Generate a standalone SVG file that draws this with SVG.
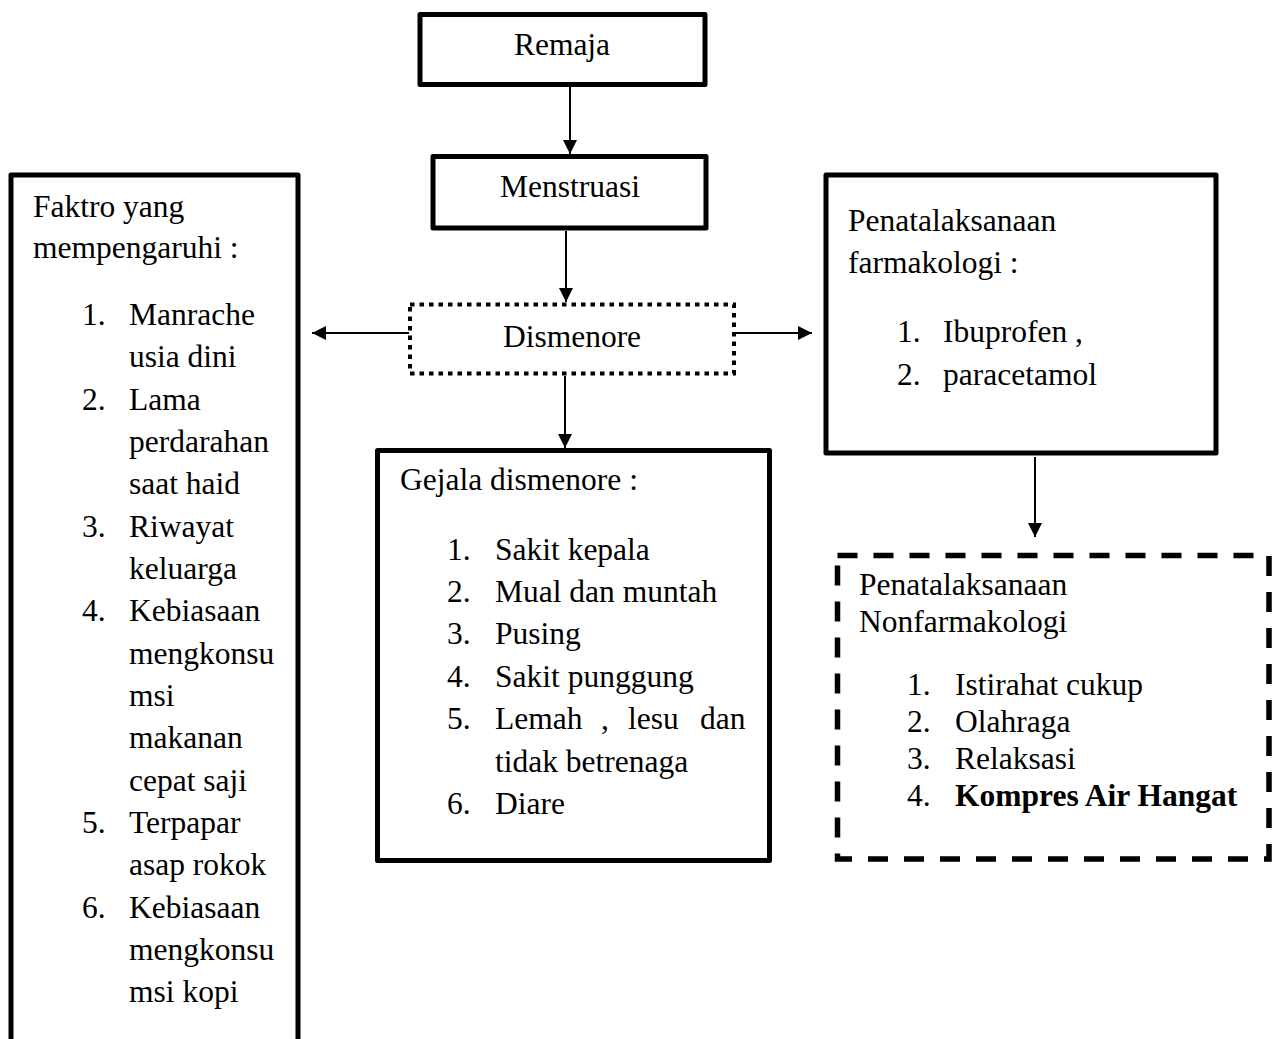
<svg xmlns="http://www.w3.org/2000/svg" width="1280" height="1039" viewBox="0 0 1280 1039">
<style>
.box{fill:#fff;stroke:#000;stroke-width:5;stroke-linejoin:round}
.dot{fill:#fff;stroke:#000;stroke-width:4;stroke-dasharray:4.5 5}
.dash{fill:#fff;stroke:#000;stroke-width:5.5;stroke-dasharray:20 16}
.t{font-family:"Liberation Serif","Times New Roman",serif;font-size:31.5px;fill:#000}
.c{text-anchor:middle}
.b{font-weight:bold}
.ln{stroke:#000;stroke-width:2;fill:none}
</style>
<defs>
<marker id="ah" viewBox="0 0 14 14" refX="14" refY="7" markerWidth="14" markerHeight="14" markerUnits="userSpaceOnUse" orient="auto">
<path d="M0,0 L14,7 L0,14 z" fill="#000"/>
</marker>
</defs>
<rect width="1280" height="1039" fill="#fff"/>
<g id="connectors">
<line class="ln" x1="570" y1="87" x2="570" y2="154" marker-end="url(#ah)"/>
<line class="ln" x1="566" y1="231" x2="566" y2="302" marker-end="url(#ah)"/>
<line class="ln" x1="565" y1="376" x2="565" y2="448" marker-end="url(#ah)"/>
<line class="ln" x1="409" y1="333" x2="312" y2="333" marker-end="url(#ah)"/>
<line class="ln" x1="735" y1="333" x2="812" y2="333" marker-end="url(#ah)"/>
<line class="ln" x1="1035" y1="457" x2="1035" y2="537" marker-end="url(#ah)"/>
</g>
<g id="remaja">
<rect class="box" x="420" y="14.5" width="285" height="70"/>
<text class="t c" x="562" y="55">Remaja</text>
</g>
<g id="menstruasi">
<rect class="box" x="433" y="156.5" width="273" height="71.5"/>
<text class="t c" x="570" y="197">Menstruasi</text>
</g>
<g id="dismenore">
<rect class="dot" x="410" y="304.5" width="324" height="69"/>
<text class="t c" x="572" y="347">Dismenore</text>
</g>
<g id="faktor">
<rect class="box" x="11" y="175" width="287" height="880"/>
<text class="t" x="33" y="217">Faktro yang</text>
<text class="t" x="33" y="258">mempengaruhi :</text>
<text class="t" x="82" y="325">1.</text><text class="t" x="129" y="325">Manrache</text>
<text class="t" x="129" y="367">usia dini</text>
<text class="t" x="82" y="410">2.</text><text class="t" x="129" y="410">Lama</text>
<text class="t" x="129" y="452">perdarahan</text>
<text class="t" x="129" y="494">saat haid</text>
<text class="t" x="82" y="537">3.</text><text class="t" x="129" y="537">Riwayat</text>
<text class="t" x="129" y="579">keluarga</text>
<text class="t" x="82" y="621">4.</text><text class="t" x="129" y="621">Kebiasaan</text>
<text class="t" x="129" y="664">mengkonsu</text>
<text class="t" x="129" y="706">msi</text>
<text class="t" x="129" y="748">makanan</text>
<text class="t" x="129" y="791">cepat saji</text>
<text class="t" x="82" y="833">5.</text><text class="t" x="129" y="833">Terpapar</text>
<text class="t" x="129" y="875">asap rokok</text>
<text class="t" x="82" y="918">6.</text><text class="t" x="129" y="918">Kebiasaan</text>
<text class="t" x="129" y="960">mengkonsu</text>
<text class="t" x="129" y="1002">msi kopi</text>
</g>
<g id="gejala">
<rect class="box" x="377.5" y="450.5" width="392" height="410"/>
<text class="t" x="400" y="490">Gejala dismenore :</text>
<text class="t" x="447" y="560">1.</text><text class="t" x="495" y="560">Sakit kepala</text>
<text class="t" x="447" y="602">2.</text><text class="t" x="495" y="602">Mual dan muntah</text>
<text class="t" x="447" y="644">3.</text><text class="t" x="495" y="644">Pusing</text>
<text class="t" x="447" y="687">4.</text><text class="t" x="495" y="687">Sakit punggung</text>
<text class="t" x="447" y="729">5.</text><text class="t" y="729"><tspan x="495">Lemah</tspan><tspan x="601">,</tspan><tspan x="628">lesu</tspan><tspan x="700">dan</tspan></text>
<text class="t" x="495" y="772">tidak betrenaga</text>
<text class="t" x="447" y="814">6.</text><text class="t" x="495" y="814">Diare</text>
</g>
<g id="farmakologi">
<rect class="box" x="826" y="175" width="390" height="278"/>
<text class="t" x="848" y="231">Penatalaksanaan</text>
<text class="t" x="848" y="273">farmakologi :</text>
<text class="t" x="897" y="342">1.</text><text class="t" x="943" y="342">Ibuprofen ,</text>
<text class="t" x="897" y="385">2.</text><text class="t" x="943" y="385">paracetamol</text>
</g>
<g id="nonfarmakologi">
<rect class="dash" x="837.5" y="555.5" width="431.5" height="303.5"/>
<text class="t" x="859" y="595">Penatalaksanaan</text>
<text class="t" x="859" y="632">Nonfarmakologi</text>
<text class="t" x="907" y="695">1.</text><text class="t" x="955" y="695">Istirahat cukup</text>
<text class="t" x="907" y="732">2.</text><text class="t" x="955" y="732">Olahraga</text>
<text class="t" x="907" y="769">3.</text><text class="t" x="955" y="769">Relaksasi</text>
<text class="t" x="907" y="806">4.</text><text class="t b" x="955" y="806">Kompres Air Hangat</text>
</g>
</svg>
